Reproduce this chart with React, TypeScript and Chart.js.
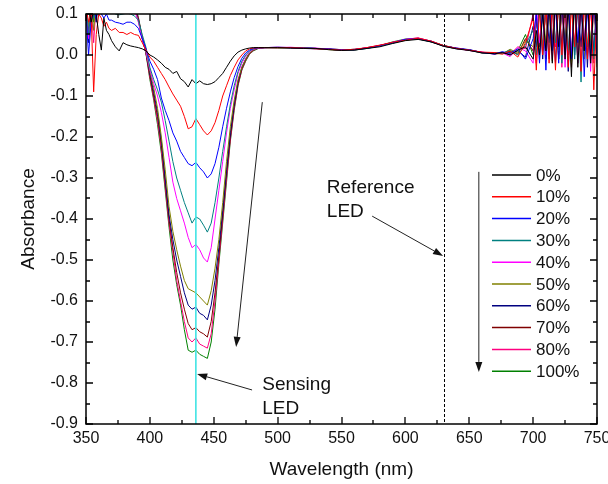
import React, { useEffect, useRef } from "react";
import { Chart, registerables } from "chart.js";

Chart.register(...registerables);

// ---------- data ----------
const wavelengths = [
  350, 352, 354, 356, 358, 360, 362, 364, 366, 368, 370, 373, 376, 379, 382, 385, 388, 391, 394, 397,
  400, 403, 406, 409, 412, 415, 418, 421, 424, 427, 430, 433, 436, 439, 442, 445, 448, 451, 454, 457,
  460, 463, 466, 469, 472, 475, 478, 481, 485, 490,
  500, 510, 520, 530, 540, 550, 560, 570, 580, 590, 600, 610, 620, 630, 640, 650, 660, 670,
  676, 682, 688, 694, 700, 702.5, 705, 707.5, 710, 712.5, 715, 717.5, 720, 722.5, 725, 727.5, 730,
  732.5, 735, 737.5, 740, 742.5, 745, 747.5, 750,
];

const seriesLabels = ["0%", "10%", "20%", "30%", "40%", "50%", "60%", "70%", "80%", "100%"];
const seriesColors = ["#000000", "#ff0000", "#0000ff", "#008080", "#ff00ff", "#808000", "#000080", "#800000", "#ff0080", "#008000"];

const abs0 = [
  0.1, 0.12, 0.08, 0.11, 0.1, 0.05, 0.012, 0.09, 0.06, 0.05, 0.035, 0.02, 0.01, 0.03, 0.025, 0.022, 0.02, 0.018, 0.015, 0.01,
  0.0, -0.005, -0.012, -0.02, -0.03, -0.035, -0.045, -0.04, -0.058, -0.065, -0.078, -0.06, -0.07, -0.063, -0.07, -0.072, -0.07, -0.065, -0.055, -0.045,
  -0.03, -0.015, -0.002, 0.007, 0.012, 0.015, 0.017, 0.018, 0.018, 0.018,
  0.018, 0.017, 0.016, 0.016, 0.013, 0.011, 0.012, 0.016, 0.02, 0.028, 0.035, 0.038, 0.032, 0.021, 0.015, 0.011, 0.005, 0.003,
  0.006, 0.0, 0.012, 0.02, -0.01, 0.06, 0.0, 0.1, 0.01, 0.13, -0.02, 0.14, 0.02, 0.15, -0.01, 0.12, -0.053, 0.16, -0.03, 0.13, 0.01, 0.15, -0.02, 0.14, 0.05,
];
const abs10 = [
  0.12, 0.08, 0.1, -0.09, 0.05, 0.1, 0.09, 0.07, 0.08, 0.065, 0.06, 0.065, 0.055, 0.055, 0.05, 0.055, 0.05, 0.048, 0.03, 0.012,
  -0.005, -0.015, -0.03, -0.045, -0.06, -0.078, -0.095, -0.11, -0.125, -0.15, -0.18, -0.175, -0.155, -0.17, -0.185, -0.195, -0.185, -0.165, -0.135, -0.1,
  -0.075, -0.05, -0.03, -0.012, 0.0, 0.01, 0.015, 0.017, 0.018, 0.018,
  0.018, 0.018, 0.017, 0.015, 0.014, 0.012, 0.014, 0.018, 0.024, 0.031, 0.036, 0.041, 0.034, 0.023, 0.016, 0.012, 0.007, 0.006,
  0.002, 0.01, -0.005, 0.03, 0.09, -0.037, 0.11, 0.0, 0.12, -0.02, 0.13, -0.037, 0.15, 0.0, 0.14, -0.03, 0.12, 0.02, 0.16, -0.04, 0.14, -0.01, 0.15, -0.085, 0.12,
];
const abs20 = [
  0.1, 0.0, 0.08, 0.11, 0.09, 0.12, 0.1, 0.09, 0.1, 0.085, 0.085, 0.08, 0.078, 0.075, 0.08, 0.08, 0.075, 0.065, 0.04, 0.015,
  -0.015, -0.035, -0.06, -0.105, -0.135, -0.16, -0.19, -0.21, -0.235, -0.25, -0.265, -0.27, -0.262, -0.275, -0.285, -0.3, -0.29, -0.265, -0.225, -0.175,
  -0.13, -0.09, -0.055, -0.028, -0.008, 0.005, 0.012, 0.016, 0.018, 0.018,
  0.019, 0.018, 0.017, 0.016, 0.015, 0.013, 0.013, 0.017, 0.023, 0.03, 0.038, 0.04, 0.033, 0.022, 0.017, 0.013, 0.006, 0.002,
  0.008, 0.004, 0.015, -0.01, 0.04, 0.1, -0.02, 0.12, -0.037, 0.14, 0.01, 0.13, -0.02, 0.15, 0.0, 0.14, -0.01, 0.13, 0.03, 0.15, -0.053, 0.12, 0.0, 0.16, -0.02,
];
const abs30 = [
  0.13, 0.05, 0.11, 0.09, 0.12, 0.1, 0.13, 0.11, 0.12, 0.11, 0.105, 0.1, 0.098, 0.1, 0.102, 0.1, 0.095, 0.085, 0.05, 0.018,
  -0.03, -0.06, -0.085, -0.115, -0.16, -0.21, -0.26, -0.3, -0.33, -0.36, -0.385, -0.41, -0.395, -0.4, -0.415, -0.432, -0.41, -0.36, -0.3, -0.235,
  -0.175, -0.12, -0.075, -0.04, -0.015, 0.0, 0.01, 0.015, 0.018, 0.018,
  0.018, 0.018, 0.018, 0.016, 0.014, 0.012, 0.012, 0.016, 0.022, 0.029, 0.037, 0.039, 0.032, 0.023, 0.016, 0.012, 0.005, 0.005,
  0.004, 0.012, 0.0, 0.025, 0.06, 0.0, 0.13, 0.02, 0.11, -0.01, 0.14, 0.03, 0.12, -0.02, 0.15, 0.01, 0.13, -0.01, 0.14, -0.066, 0.15, 0.02, 0.13, -0.01, 0.14,
];
const abs40 = [
  0.14, 0.04, 0.12, 0.1, 0.13, 0.12, 0.14, 0.13, 0.14, 0.13, 0.13, 0.125, 0.12, 0.125, 0.12, 0.12, 0.11, 0.08, 0.04, 0.008,
  -0.035, -0.07, -0.1, -0.14, -0.19, -0.25, -0.31, -0.35, -0.38, -0.41, -0.445, -0.47, -0.462, -0.475, -0.495, -0.505, -0.47, -0.4, -0.33, -0.26,
  -0.19, -0.13, -0.085, -0.045, -0.02, -0.003, 0.008, 0.014, 0.017, 0.018,
  0.018, 0.019, 0.017, 0.017, 0.014, 0.012, 0.013, 0.018, 0.021, 0.031, 0.038, 0.041, 0.034, 0.022, 0.016, 0.011, 0.007, 0.004,
  0.005, -0.004, 0.018, 0.01, -0.02, 0.12, 0.03, 0.1, 0.0, 0.15, -0.01, 0.12, 0.02, 0.14, -0.03, 0.13, 0.0, 0.15, -0.02, 0.12, 0.03, 0.14, -0.04, 0.15, 0.01,
];
const abs50 = [
  0.12, 0.07, 0.13, 0.06, 0.14, 0.13, 0.15, 0.14, 0.14, 0.14, 0.135, 0.13, 0.13, 0.13, 0.125, 0.125, 0.115, 0.082, 0.04, 0.006,
  -0.04, -0.08, -0.13, -0.2, -0.28, -0.37, -0.43, -0.475, -0.515, -0.55, -0.57, -0.575, -0.58, -0.59, -0.6, -0.61, -0.575, -0.52, -0.45, -0.36,
  -0.26, -0.175, -0.11, -0.06, -0.03, -0.01, 0.005, 0.012, 0.017, 0.018,
  0.017, 0.018, 0.017, 0.016, 0.013, 0.011, 0.013, 0.017, 0.022, 0.03, 0.036, 0.04, 0.033, 0.021, 0.016, 0.012, 0.006, 0.003,
  0.003, 0.014, 0.005, 0.035, 0.02, 0.11, -0.01, 0.14, 0.02, 0.12, -0.015, 0.15, 0.01, 0.13, 0.0, 0.15, -0.02, 0.12, 0.01, 0.14, -0.01, 0.13, 0.02, 0.15, -0.03,
];
const abs60 = [
  0.13, 0.03, 0.1, 0.12, 0.08, 0.14, 0.15, 0.15, 0.14, 0.14, 0.14, 0.135, 0.135, 0.13, 0.13, 0.128, 0.118, 0.085, 0.04, 0.005,
  -0.045, -0.09, -0.14, -0.21, -0.3, -0.39, -0.45, -0.5, -0.54, -0.58, -0.61, -0.62, -0.615, -0.63, -0.635, -0.646, -0.61, -0.55, -0.47, -0.38,
  -0.28, -0.19, -0.12, -0.065, -0.03, -0.01, 0.005, 0.012, 0.017, 0.018,
  0.018, 0.017, 0.016, 0.015, 0.014, 0.012, 0.014, 0.016, 0.023, 0.029, 0.037, 0.039, 0.034, 0.022, 0.015, 0.013, 0.006, 0.005,
  0.007, 0.0, 0.01, -0.005, 0.07, 0.02, 0.12, -0.01, 0.13, 0.03, 0.12, -0.02, 0.14, 0.02, 0.13, -0.04, 0.15, 0.0, 0.12, 0.02, 0.15, -0.03, 0.14, 0.01, 0.13,
];
const abs70 = [
  0.11, 0.06, 0.13, 0.09, 0.14, 0.15, 0.14, 0.15, 0.15, 0.145, 0.14, 0.14, 0.138, 0.135, 0.133, 0.13, 0.12, 0.088, 0.042, 0.004,
  -0.05, -0.1, -0.15, -0.22, -0.31, -0.4, -0.47, -0.53, -0.58, -0.62, -0.655, -0.67, -0.665, -0.675, -0.68, -0.688, -0.65, -0.58, -0.49, -0.39,
  -0.29, -0.2, -0.125, -0.07, -0.033, -0.012, 0.004, 0.012, 0.017, 0.018,
  0.018, 0.018, 0.017, 0.016, 0.015, 0.013, 0.012, 0.017, 0.022, 0.031, 0.037, 0.04, 0.032, 0.023, 0.016, 0.012, 0.005, 0.004,
  0.004, 0.009, 0.002, 0.04, 0.01, 0.09, 0.02, 0.13, -0.01, 0.12, 0.03, 0.15, -0.01, 0.12, 0.02, 0.14, -0.03, 0.15, 0.0, 0.13, 0.02, 0.14, -0.02, 0.12, 0.03,
];
const abs80 = [
  0.1, 0.04, 0.12, 0.03, 0.13, 0.15, 0.16, 0.15, 0.15, 0.15, 0.145, 0.145, 0.14, 0.14, 0.135, 0.132, 0.122, 0.09, 0.043, 0.003,
  -0.055, -0.105, -0.16, -0.23, -0.32, -0.41, -0.48, -0.55, -0.6, -0.65, -0.69, -0.7, -0.69, -0.705, -0.71, -0.715, -0.68, -0.6, -0.5, -0.4,
  -0.3, -0.205, -0.13, -0.072, -0.035, -0.013, 0.003, 0.011, 0.017, 0.018,
  0.019, 0.018, 0.017, 0.016, 0.014, 0.012, 0.013, 0.018, 0.024, 0.03, 0.038, 0.042, 0.033, 0.022, 0.017, 0.011, 0.007, 0.002,
  0.006, 0.002, 0.02, 0.015, 0.1, -0.02, 0.14, 0.01, 0.12, 0.0, 0.13, 0.02, 0.15, -0.03, 0.12, 0.0, 0.14, 0.02, 0.13, -0.03, 0.15, 0.0, 0.12, -0.02, 0.14,
];
const abs100 = [
  0.12, 0.05, 0.14, 0.08, 0.15, 0.16, 0.16, 0.16, 0.155, 0.15, 0.15, 0.15, 0.145, 0.145, 0.14, 0.135, 0.125, 0.092, 0.045, 0.002,
  -0.06, -0.11, -0.17, -0.24, -0.33, -0.42, -0.5, -0.56, -0.61, -0.67, -0.72, -0.725, -0.72, -0.73, -0.735, -0.74, -0.7, -0.62, -0.51, -0.41,
  -0.31, -0.21, -0.135, -0.075, -0.037, -0.015, 0.002, 0.01, 0.016, 0.018,
  0.018, 0.018, 0.018, 0.016, 0.014, 0.012, 0.013, 0.018, 0.023, 0.032, 0.039, 0.041, 0.034, 0.023, 0.016, 0.012, 0.006, 0.004,
  0.005, 0.006, 0.01, 0.05, 0.0, 0.08, 0.03, 0.12, 0.0, 0.14, 0.02, 0.13, -0.01, 0.12, 0.03, 0.15, 0.0, 0.14, -0.02, 0.13, 0.01, 0.12, 0.03, 0.15, 0.0,
];
const seriesValues = [abs0, abs10, abs20, abs30, abs40, abs50, abs60, abs70, abs80, abs100];

const X_MIN = 350, X_MAX = 750, X_STEP = 50;
const Y_MIN = -0.9, Y_MAX = 0.1, Y_STEP = 0.1;
const SENSING_NM = 436;
const REFERENCE_NM = 630;

// annotations in data coordinates [nm, absorbance]
const trendArrow = [[488, -0.115], [467.5, -0.712]];
const referenceArrow = [[574, -0.393], [629.5, -0.49]];
const sensingArrow = [[480, -0.817], [437, -0.778]];
const legendArrow = [[657.5, -0.285], [657.5, -0.773]];
const referenceText = { at: [538.5, -0.324], lines: ["Reference", "LED"] };
const sensingText = { at: [488, -0.805], lines: ["Sensing", "LED"] };

const FONT = "'Liberation Sans', Arial, sans-serif";

function drawArrow(ctx: CanvasRenderingContext2D, x1: number, y1: number, x2: number, y2: number) {
  const ang = Math.atan2(y2 - y1, x2 - x1);
  const head = 10, w = 3.5;
  const bx = x2 - head * Math.cos(ang), by = y2 - head * Math.sin(ang);
  ctx.beginPath();
  ctx.moveTo(x1, y1);
  ctx.lineTo(bx, by);
  ctx.stroke();
  ctx.beginPath();
  ctx.moveTo(x2, y2);
  ctx.lineTo(bx + w * Math.sin(ang), by - w * Math.cos(ang));
  ctx.lineTo(bx - w * Math.sin(ang), by + w * Math.cos(ang));
  ctx.closePath();
  ctx.fill();
}

const decorPlugin = {
  id: "decor",
  afterDatasetsDraw(chart: any) {
    const { ctx, chartArea: a, scales } = chart;
    const x = scales.x;
    ctx.save();
    const cx = x.getPixelForValue(SENSING_NM);
    ctx.strokeStyle = "#40e4e4";
    ctx.lineWidth = 1.6;
    ctx.beginPath();
    ctx.moveTo(cx, a.top);
    ctx.lineTo(cx, a.bottom);
    ctx.stroke();
    const rx = Math.round(x.getPixelForValue(REFERENCE_NM)) + 0.5;
    ctx.strokeStyle = "#000";
    ctx.lineWidth = 1;
    ctx.setLineDash([3, 2]);
    ctx.beginPath();
    ctx.moveTo(rx, a.top);
    ctx.lineTo(rx, a.bottom);
    ctx.stroke();
    ctx.restore();
  },
  afterDraw(chart: any) {
    const { ctx, chartArea: a, scales } = chart;
    const x = scales.x, y = scales.y;
    const px = (p: number[]) => [x.getPixelForValue(p[0]), y.getPixelForValue(p[1])];
    ctx.save();
    // frame
    ctx.strokeStyle = "#000";
    ctx.lineWidth = 1.5;
    ctx.strokeRect(a.left, a.top, a.right - a.left, a.bottom - a.top);
    // inward ticks
    ctx.lineWidth = 1.3;
    ctx.beginPath();
    for (let v = X_MIN; v <= X_MAX; v += X_STEP / 2) {
      const major = (v - X_MIN) % X_STEP === 0;
      const len = major ? 7 : 4;
      const xp = Math.round(x.getPixelForValue(v));
      ctx.moveTo(xp, a.bottom);
      ctx.lineTo(xp, a.bottom - len);
      ctx.moveTo(xp, a.top);
      ctx.lineTo(xp, a.top + len);
    }
    const nY = Math.round((Y_MAX - Y_MIN) / (Y_STEP / 2));
    for (let i = 0; i <= nY; i++) {
      const v = Y_MIN + (i * Y_STEP) / 2;
      const len = i % 2 === 0 ? 7 : 4;
      const yp = Math.round(y.getPixelForValue(v));
      ctx.moveTo(a.left, yp);
      ctx.lineTo(a.left + len, yp);
      ctx.moveTo(a.right, yp);
      ctx.lineTo(a.right - len, yp);
    }
    ctx.stroke();

    // legend
    const legX = a.right - 105;
    const legY = a.top + 161;
    const rowH = 21.8;
    ctx.font = `17px ${FONT}`;
    ctx.textBaseline = "middle";
    ctx.textAlign = "left";
    chart.data.datasets.forEach((ds: any, i: number) => {
      const yy = legY + i * rowH;
      ctx.strokeStyle = ds.borderColor;
      ctx.lineWidth = 1.5;
      ctx.beginPath();
      ctx.moveTo(legX, yy);
      ctx.lineTo(legX + 39, yy);
      ctx.stroke();
      ctx.fillStyle = "#111";
      ctx.fillText(ds.label, legX + 44, yy + 1);
    });

    // arrows
    ctx.strokeStyle = "#222";
    ctx.fillStyle = "#111";
    ctx.lineWidth = 1;
    for (const arr of [trendArrow, referenceArrow, sensingArrow, legendArrow]) {
      const [p1, p2] = [px(arr[0]), px(arr[1])];
      drawArrow(ctx, p1[0], p1[1], p2[0], p2[1]);
    }

    // texts
    ctx.font = `19px ${FONT}`;
    ctx.fillStyle = "#111";
    ctx.textAlign = "left";
    ctx.textBaseline = "middle";
    for (const t of [referenceText, sensingText]) {
      const [tx, ty] = px(t.at);
      t.lines.forEach((s, i) => ctx.fillText(s, tx, ty + i * 24));
    }
    ctx.restore();
  },
};

export default function App() {
  const canvasRef = useRef<HTMLCanvasElement | null>(null);

  useEffect(() => {
    const canvas = canvasRef.current;
    if (!canvas) return;
    const datasets = seriesValues.map((vals, i) => ({
      label: seriesLabels[i],
      data: wavelengths.map((w, j) => ({ x: w, y: vals[j] })),
      borderColor: seriesColors[i],
      backgroundColor: seriesColors[i],
      borderWidth: 1,
      pointRadius: 0,
      tension: 0,
      fill: false,
      clip: 0,
    }));
    const chart = new Chart(canvas, {
      type: "line",
      data: { datasets },
      plugins: [decorPlugin],
      options: {
        responsive: false,
        animation: false,
        events: [],
        layout: { padding: { top: 14, right: 11, left: 0, bottom: 0 } },
        plugins: { legend: { display: false }, tooltip: { enabled: false } },
        scales: {
          x: {
            type: "linear",
            min: X_MIN,
            max: X_MAX,
            afterFit: (s: any) => {
              s.height = 60;
              s.paddingLeft = 0;
              s.paddingRight = 0;
            },
            ticks: {
              stepSize: X_STEP,
              autoSkip: false,
              maxRotation: 0,
              padding: 5,
              color: "#111",
              font: { family: FONT, size: 16 },
            },
            grid: { display: false, drawTicks: false },
            border: { display: false },
            title: {
              display: true,
              text: "Wavelength (nm)",
              color: "#111",
              font: { family: FONT, size: 19 },
              padding: { top: 0, bottom: 3 },
            },
          },
          y: {
            type: "linear",
            min: Y_MIN,
            max: Y_MAX,
            afterFit: (s: any) => {
              s.width = 86;
              s.paddingTop = 0;
              s.paddingBottom = 0;
            },
            ticks: {
              stepSize: Y_STEP,
              autoSkip: false,
              padding: 8,
              color: "#111",
              font: { family: FONT, size: 16 },
              callback: (v: any) => (Math.abs(Number(v)) < 1e-9 ? "0.0" : Number(v).toFixed(1)),
            },
            grid: { display: false, drawTicks: false },
            border: { display: false },
            title: {
              display: true,
              text: "Absorbance",
              color: "#111",
              font: { family: FONT, size: 19 },
              padding: { top: 17, bottom: 0 },
            },
          },
        },
      },
    });
    return () => chart.destroy();
  }, []);

  return (
    <div style={{ position: "absolute", left: 0, top: 0, width: 608, height: 484, background: "#fff" }}>
      <canvas ref={canvasRef} width={608} height={484} style={{ display: "block" }} />
    </div>
  );
}
